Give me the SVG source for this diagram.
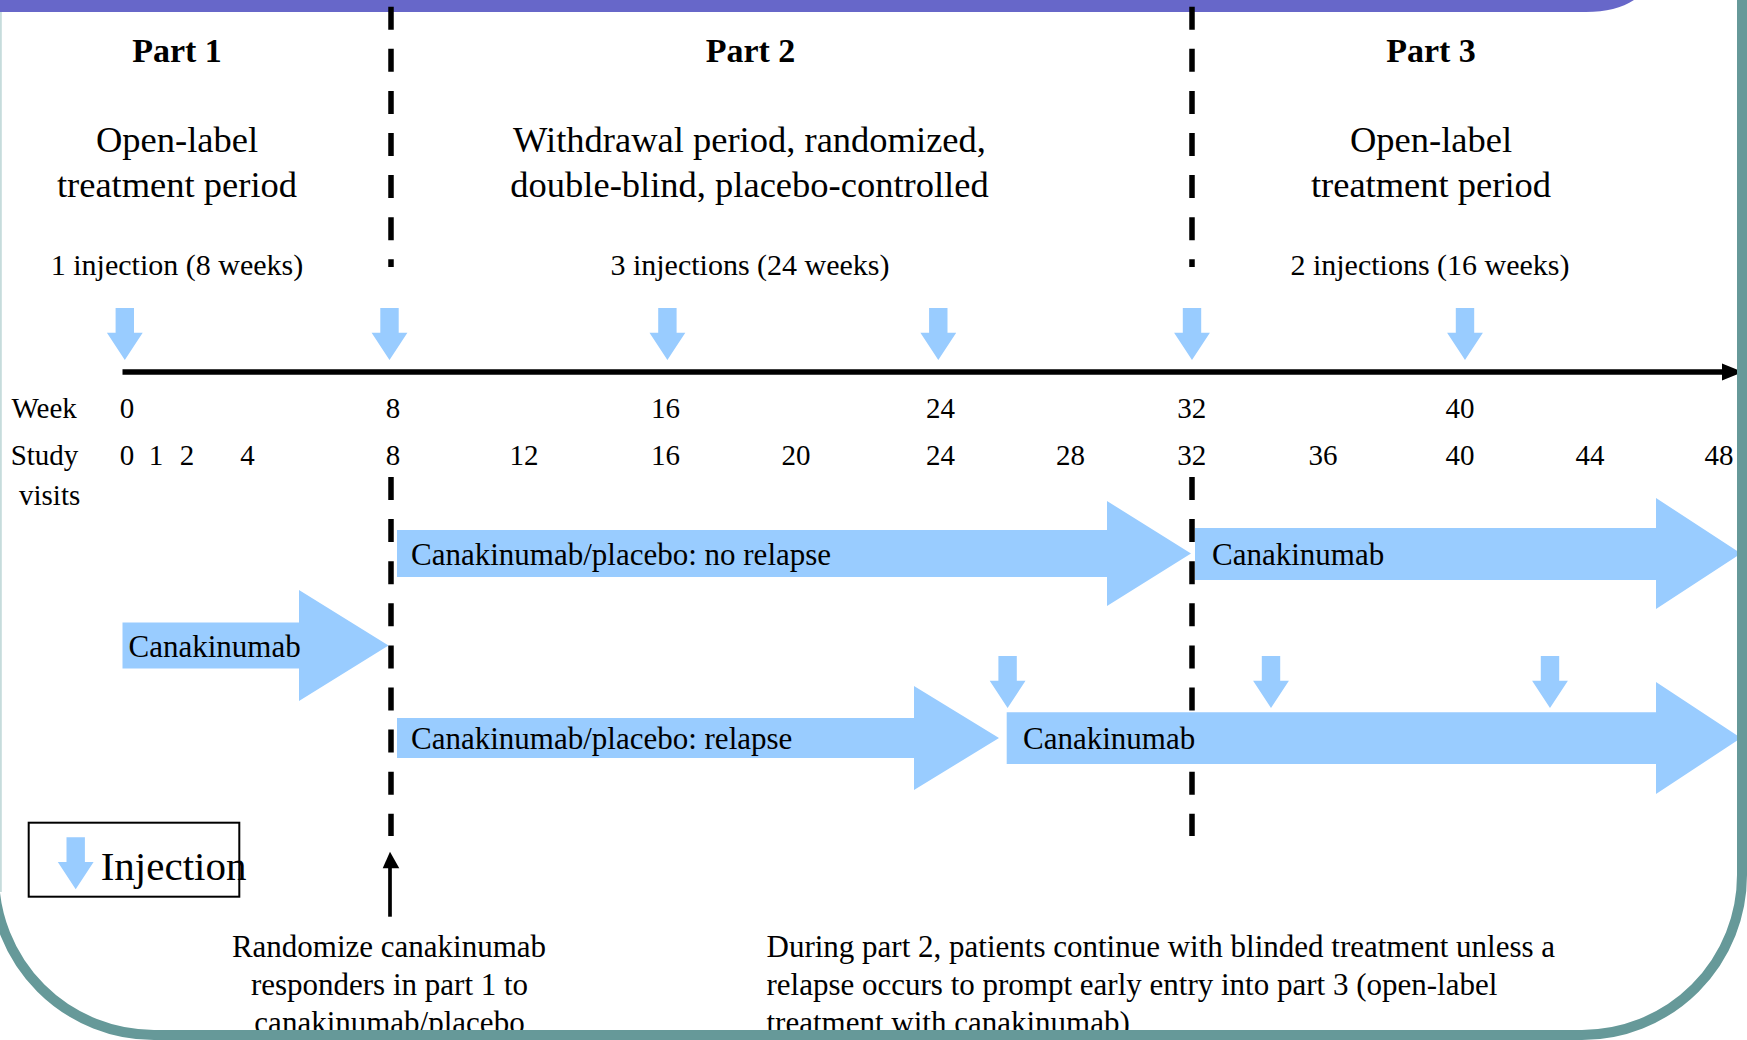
<svg xmlns="http://www.w3.org/2000/svg" width="1747" height="1040" viewBox="0 0 1747 1040">
  <style>
    text { font-family: "Liberation Serif", "Times New Roman", serif; fill: #000; }
    .part { font-size: 34px; font-weight: bold; text-anchor: middle; }
    .desc { font-size: 36.5px; text-anchor: middle; }
    .inj { font-size: 30px; text-anchor: middle; }
    .tick { font-size: 29px; text-anchor: middle; }
    .lbl { font-size: 29px; }
    .box { font-size: 31px; }
    .note { font-size: 31px; }
    .blue { fill: #99CCFF; }
    .dash { stroke: #000; stroke-width: 5.5; stroke-dasharray: 23 19.1; fill: none; }
  </style>
  <defs>
    <path id="inj" d="M-9.2,0 H9.2 V24.7 H17.9 L0,52 L-17.9,24.7 H-9.2 Z" fill="#99CCFF"/>
  </defs>
  <rect x="0" y="0" width="1747" height="1040" fill="#FFFFFF"/>

  <!-- header band and frame -->
  <g id="header">
    <path d="M0,0 H1634 C1622,8 1606,12 1586,12 H0 Z" fill="#6767C9"/>
    <rect x="0" y="12" width="1.8" height="880" fill="#C6DCDC"/>
  </g>

  <!-- dashed period separators -->
  <g id="connectors">
    <line class="dash" x1="391" y1="6.7" x2="391" y2="267"/>
    <line class="dash" x1="391" y1="477" x2="391" y2="836"/>
    <line class="dash" x1="1192" y1="6.7" x2="1192" y2="267"/>
    <line class="dash" x1="1192" y1="477" x2="1192" y2="836"/>
    <!-- timeline axis -->
    <line x1="122.5" y1="372" x2="1726" y2="372" stroke="#000" stroke-width="5.5"/>
    <polygon points="1722,363.5 1743,372 1722,380.5" fill="#000"/>
    <!-- randomize pointer -->
    <line x1="390" y1="916.7" x2="390" y2="866" stroke="#000" stroke-width="3.7"/>
    <polygon points="382.7,868.3 399.3,868.3 390,851.7" fill="#000"/>
  </g>

  <!-- part headings -->
  <g id="part1-head">
    <text class="part" x="177" y="61.7">Part 1</text>
    <text class="desc" x="177" y="152">Open-label</text>
    <text class="desc" x="177" y="197">treatment period</text>
    <text class="inj" x="177" y="275">1 injection (8 weeks)</text>
  </g>
  <g id="part2-head">
    <text class="part" x="750.5" y="61.7">Part 2</text>
    <text class="desc" x="749.5" y="152">Withdrawal period, randomized,</text>
    <text class="desc" x="749.5" y="197">double-blind, placebo-controlled</text>
    <text class="inj" x="750" y="275">3 injections (24 weeks)</text>
  </g>
  <g id="part3-head">
    <text class="part" x="1431" y="61.7">Part 3</text>
    <text class="desc" x="1431" y="152">Open-label</text>
    <text class="desc" x="1431" y="197">treatment period</text>
    <text class="inj" x="1430" y="275">2 injections (16 weeks)</text>
  </g>

  <!-- injection markers on timeline -->
  <g id="injections-top">
    <use href="#inj" x="124.8" y="308"/>
    <use href="#inj" x="389.5" y="308"/>
    <use href="#inj" x="667.4" y="308"/>
    <use href="#inj" x="938.3" y="308"/>
    <use href="#inj" x="1192" y="308"/>
    <use href="#inj" x="1465" y="308"/>
  </g>

  <!-- axis labels -->
  <g id="week-row">
    <text class="lbl" x="11.5" y="418">Week</text>
    <text class="tick" x="127" y="418">0</text>
    <text class="tick" x="393" y="418">8</text>
    <text class="tick" x="665.6" y="418">16</text>
    <text class="tick" x="940.6" y="418">24</text>
    <text class="tick" x="1191.7" y="418">32</text>
    <text class="tick" x="1460" y="418">40</text>
  </g>
  <g id="visit-row">
    <text class="lbl" x="10.7" y="465">Study</text>
    <text class="lbl" x="19" y="505">visits</text>
    <text class="tick" x="127" y="465">0</text>
    <text class="tick" x="156" y="465">1</text>
    <text class="tick" x="187" y="465">2</text>
    <text class="tick" x="247.5" y="465">4</text>
    <text class="tick" x="393" y="465">8</text>
    <text class="tick" x="524" y="465">12</text>
    <text class="tick" x="665.6" y="465">16</text>
    <text class="tick" x="796" y="465">20</text>
    <text class="tick" x="940.6" y="465">24</text>
    <text class="tick" x="1070.6" y="465">28</text>
    <text class="tick" x="1191.7" y="465">32</text>
    <text class="tick" x="1323" y="465">36</text>
    <text class="tick" x="1460" y="465">40</text>
    <text class="tick" x="1590" y="465">44</text>
    <text class="tick" x="1719" y="465">48</text>
  </g>

  <!-- treatment arrows -->
  <g id="arm-part1">
    <polygon class="blue" points="122.5,622.5 299,622.5 299,590 388.5,645.5 299,701 299,668.5 122.5,668.5"/>
    <text class="box" x="128.5" y="657">Canakinumab</text>
  </g>
  <g id="arm-no-relapse">
    <polygon class="blue" points="397,530 1107,530 1107,501 1191,553.5 1107,606 1107,577 397,577"/>
    <text class="box" x="411" y="564.5">Canakinumab/placebo: no relapse</text>
  </g>
  <g id="arm-part3">
    <polygon class="blue" points="1195,528 1656,528 1656,498 1741,553.5 1656,609 1656,580 1195,580"/>
    <text class="box" x="1212" y="564.5">Canakinumab</text>
  </g>
  <g id="arm-relapse">
    <polygon class="blue" points="397,718 914,718 914,686 999,738 914,790 914,758 397,758"/>
    <text class="box" x="411" y="749">Canakinumab/placebo: relapse</text>
  </g>
  <g id="arm-relapse-open">
    <polygon class="blue" points="1006.7,712.3 1656,712.3 1656,682 1741,738 1656,794 1656,764 1006.7,764"/>
    <text class="box" x="1023" y="749">Canakinumab</text>
  </g>
  <g id="injections-relapse">
    <use href="#inj" x="1007.6" y="656"/>
    <use href="#inj" x="1271" y="656"/>
    <use href="#inj" x="1550" y="656"/>
  </g>

  <!-- legend -->
  <g id="legend">
    <rect x="28.7" y="822.7" width="210.6" height="74" fill="none" stroke="#000" stroke-width="2"/>
    <use href="#inj" x="75.7" y="837.3"/>
    <text x="100.7" y="880" style="font-size:41px">Injection</text>
  </g>

  <!-- notes -->
  <g id="note-randomize">
    <text class="note" x="389" y="957" text-anchor="middle">Randomize canakinumab</text>
    <text class="note" x="389.5" y="994.5" text-anchor="middle">responders in part 1 to</text>
    <text class="note" x="389.5" y="1033" text-anchor="middle">canakinumab/placebo</text>
  </g>
  <g id="note-relapse">
    <text class="note" x="766.5" y="957">During part 2, patients continue with blinded treatment unless a</text>
    <text class="note" x="766.5" y="994.5">relapse occurs to prompt early entry into part 3 (open-label</text>
    <text class="note" x="766.5" y="1033">treatment with canakinumab)</text>
  </g>

  <g id="frame">
    <path d="M-6,-60 V875 A160,160 0 0 0 154,1035 H1582 A160,160 0 0 0 1742,875 V-60" fill="none" stroke="#669999" stroke-width="10"/>
  </g>
</svg>
